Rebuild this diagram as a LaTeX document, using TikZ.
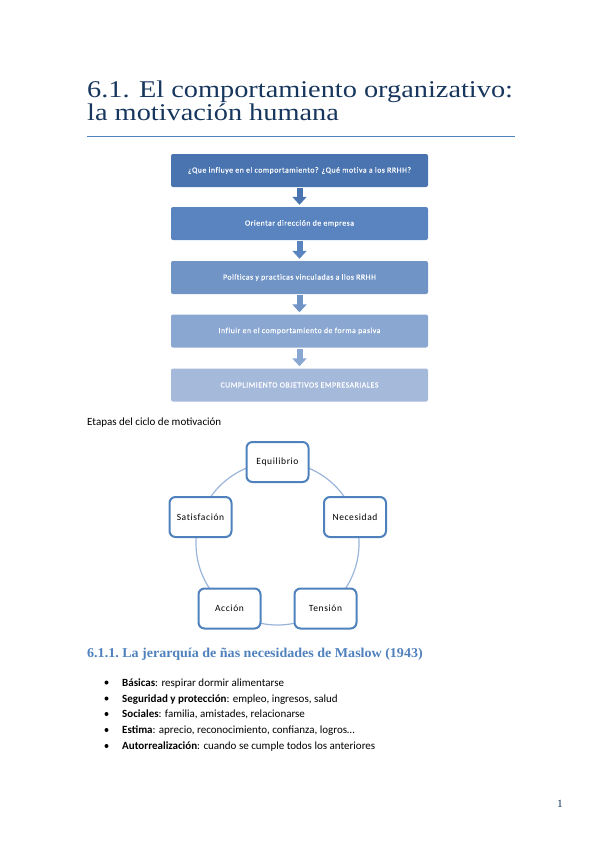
\documentclass[tikz,border=0pt]{standalone}
\usepackage{fontspec}
\setmainfont{Carlito}
\newfontfamily\cambria[FakeStretch=1.18]{Liberation Serif}
\newfontfamily\cambriahead[FakeStretch=1.04]{Liberation Serif}
\newfontfamily\flowfont[LetterSpace=6.5, Ligatures=NoCommon, FakeBold=0.6]{Carlito}
\newfontfamily\stagefont[LetterSpace=6.5, Ligatures=NoCommon]{Carlito}
\usetikzlibrary{arrows.meta, positioning}

\definecolor{titleblue}{HTML}{17365D}
\definecolor{accentblue}{HTML}{4F81BD}
\definecolor{ringblue}{HTML}{9AB5D9}
\definecolor{flowA}{HTML}{4A74B0}
\definecolor{flowB}{HTML}{5A84C0}
\definecolor{flowC}{HTML}{7094C6}
\definecolor{flowD}{HTML}{8AA7D2}
\definecolor{flowE}{HTML}{A5B9DB}

\tikzset{
  flowbox/.style={rounded corners=2pt, minimum width=257pt, minimum height=33pt,
    text=white, font=\flowfont\fontsize{7.8}{8}\selectfont, inner sep=0pt},
  flowarrow/.style={line width=6pt, -{Triangle[width=14pt,length=8pt]},
    shorten <=1pt, shorten >=2pt},
  stagebox/.style={draw=accentblue, line width=2pt, fill=white, rounded corners=6pt,
    minimum width=62pt, minimum height=40pt, font=\stagefont\fontsize{9.5}{10}\selectfont, inner sep=0pt},
  bodytext/.style={anchor=base west, font=\fontsize{11}{12}\selectfont, inner sep=0pt},
  bulletdot/.style={circle, fill=black, inner sep=0pt, minimum size=4pt}
}

\begin{document}
\begin{tikzpicture}[x=1pt, y=-1pt]
    \useasboundingbox (0,0) rectangle (599,848);

    % title
    \node[anchor=base west, inner sep=0pt, text=titleblue, font=\cambria\fontsize{24}{24}\selectfont]
        (title1) at (87,97.5) {6.1. El comportamiento organizativo:};
    \node[anchor=base west, inner sep=0pt, text=titleblue, font=\cambria\fontsize{24}{24}\selectfont]
        (title2) at (87,120.5) {la motivación humana};
    \draw[accentblue, line width=1pt] (87,136) -- (515,136);

    % flow
    \node[flowbox, fill=flowA] (fl1) at (299.5,170.5) {¿Que influye en el comportamiento? ¿Qué motiva a los RRHH?};
    \node[flowbox, fill=flowB] (fl2) at (299.5,223.5) {Orientar dirección de empresa};
    \node[flowbox, fill=flowC] (fl3) at (299.5,277.5) {Políticas y practicas vinculadas a llos RRHH};
    \node[flowbox, fill=flowD] (fl4) at (299.5,331) {Influir en el comportamiento de forma pasiva};
    \node[flowbox, fill=flowE] (fl5) at (299.5,385) {CUMPLIMIENTO OBJETIVOS EMPRESARIALES};
    \draw[flowarrow, flowA] (fl1) -- (fl2);
    \draw[flowarrow, flowB] (fl2) -- (fl3);
    \draw[flowarrow, flowC] (fl3) -- (fl4);
    \draw[flowarrow, flowD] (fl4) -- (fl5);

    \node[bodytext] (cyclecap) at (87,425.5) {Etapas del ciclo de motivación};

    % cycle
    \coordinate (hub) at (277.5,543.5);
    \draw[ringblue, line width=1.2pt] (hub) circle[radius=81.5pt];
    \node[stagebox] (equilibrio) at (277.5,462) {Equilibrio};
    \node[stagebox] (necesidad) at (355,517) {Necesidad};
    \node[stagebox] (tension) at (325.5,608.5) {Tensión};
    \node[stagebox] (accion) at (229.5,608.5) {Acción};
    \node[stagebox] (satisfacion) at (200.5,517) {Satisfación};

    % maslow
    \node[anchor=base west, inner sep=0pt, text=accentblue, font=\cambriahead\bfseries\fontsize{13.5}{14}\selectfont]
        (maslow) at (87,657) {6.1.1.\ La jerarquía de ñas necesidades de Maslow (1943)};
    \foreach \y/\lead/\rest [count=\i] in {
        686/Básicas/respirar dormir alimentarse,
        702/Seguridad y protección/empleo{,} ingresos{,} salud,
        717.5/Sociales/familia{,} amistades{,} relacionarse,
        733.5/Estima/aprecio{,} reconocimiento{,} confianza{,} logros…,
        749.5/Autorrealización/cuando se cumple todos los anteriores} {
        \node[bulletdot] (dot\i) at (106.5,\y-3.5) {};
        \node[bodytext] (item\i) at (122,\y) {\textbf{\lead}: \rest};
    }

    \node[anchor=base, inner sep=0pt, text=titleblue, font=\cambriahead\fontsize{11}{12}\selectfont]
        (pagenum) at (560,807) {1};
\end{tikzpicture}
\end{document}
